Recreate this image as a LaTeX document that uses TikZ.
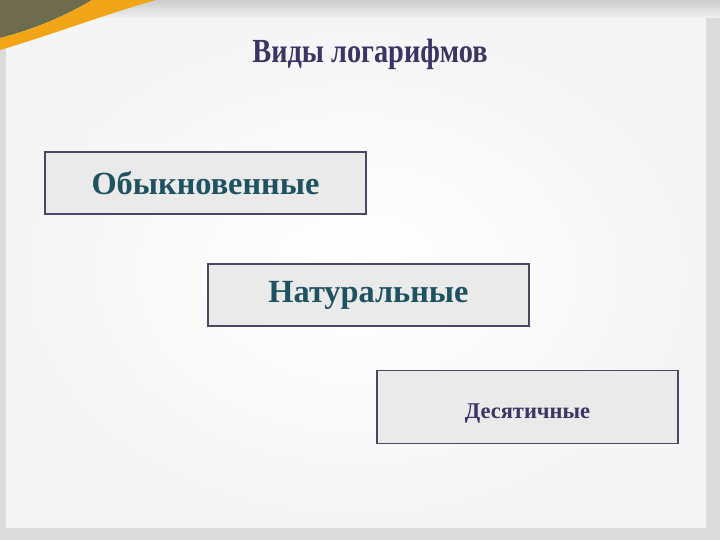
\documentclass[tikz,border=0pt]{standalone}
\usepackage{fontspec}
\setmainfont{Liberation Serif}
\definecolor{titlecol}{HTML}{3B3566}
\definecolor{tealtext}{HTML}{1F5260}
\definecolor{boxline}{HTML}{4B4763}
\definecolor{boxfill}{HTML}{EAEAEA}
\definecolor{orangeband}{HTML}{F2A516}
\definecolor{olivecorner}{HTML}{6E6C4E}

\begin{document}
\begin{tikzpicture}[node distance=2.8cm, thick, kind node/.style={rectangle, draw=boxline, line width=1.4pt, fill=boxfill, minimum width=8.025cm, minimum height=1.55cm, font=\fontsize{23}{28}\selectfont\bfseries, text=tealtext}]
	% background
	\useasboundingbox (0,0) rectangle (18,13.5);
	\fill[gray!28] (0,0) rectangle (18,13.5);
	\shade[inner color=white, outer color=gray!8] (0.15,0.3) rectangle (17.65,13.05);
	\shade[top color=gray!40, bottom color=gray!12] (0,13.05) rectangle (18,13.5);
	\fill[olivecorner] (0,13.5) -- (2.3,13.5) .. controls (1.8,13.2) and (1.0,12.8) .. (0,12.55) -- cycle;
	\fill[orangeband] (0,12.55) .. controls (1.0,12.8) and (1.8,13.2) .. (2.3,13.5) -- (3.9,13.5) .. controls (2.8,13.2) and (1.2,12.6) .. (0,12.25) -- cycle;
	% title and boxes
	\node[font=\fontsize{24}{28}\selectfont\bfseries, text=titlecol] (title) at (9.25,12.15) {\scalebox{0.84}[1]{Виды логарифмов}};
	\node[kind node] (ord) at (5.1375,8.925) {Обыкновенные};
	\node[kind node] (nat) [below of=ord, xshift=4.075cm] {Натуральные};
	\node[kind node, minimum width=7.525cm, minimum height=1.825cm, text height=0.7cm, font=\fontsize{16}{19}\selectfont\bfseries, text=titlecol] (dec) [below of=nat, xshift=3.975cm] {Десятичные};
\end{tikzpicture}
\end{document}
